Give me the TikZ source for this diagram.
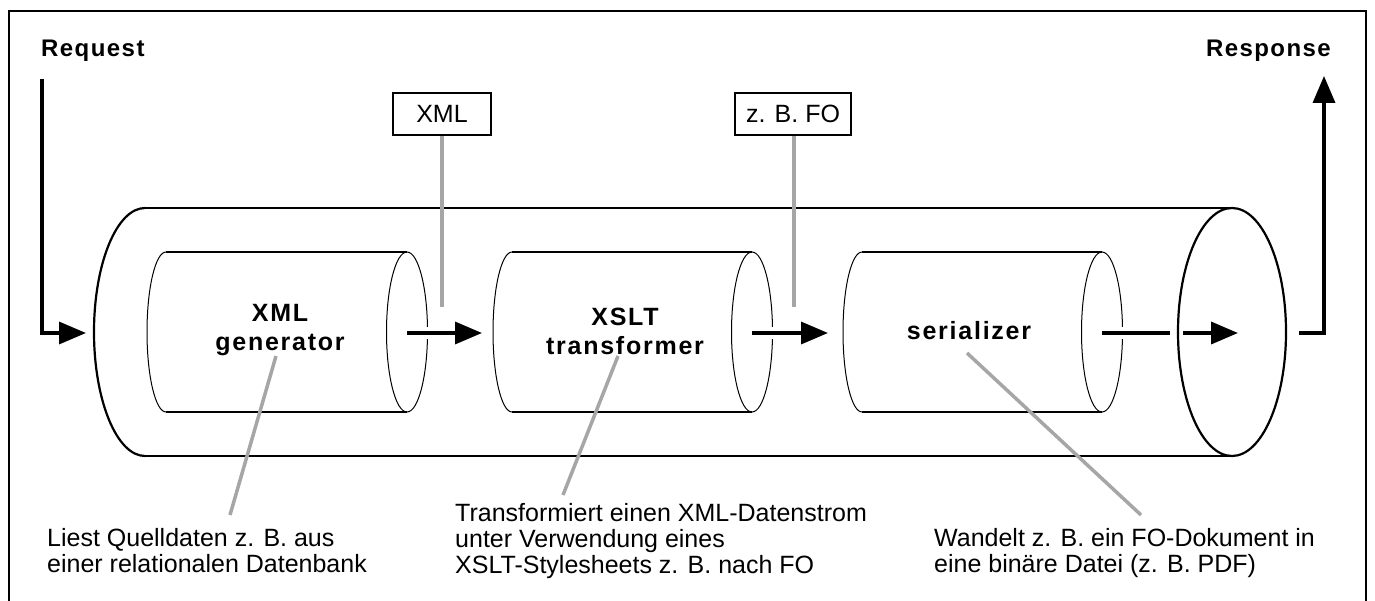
\documentclass[tikz,border=0pt]{standalone}
\usepackage{fontspec}
\setmainfont{Liberation Sans}
\newfontfamily\bsp{Liberation Sans}[LetterSpace=6]
\newfontfamily\bspw{Liberation Sans}[LetterSpace=7]
\usetikzlibrary{arrows.meta}
\definecolor{lead}{HTML}{A6A6A6}
\begin{document}
\begin{tikzpicture}[x=1pt,y=-1pt,
  frameline/.style={line width=2pt},
  outerline/.style={line width=2.2pt},
  cylline/.style={line width=1.8pt},
  cylarc/.style={line width=1pt},
  flow/.style={line width=3.5pt,-{Triangle[length=27pt,width=22pt]}},
  flowplain/.style={line width=3.5pt},
  leader/.style={draw=lead,line width=3.5pt},
  lblbox/.style={draw,line width=1.2pt,minimum width=98pt,minimum height=42pt,inner sep=0pt,font=\fontsize{25}{26}\selectfont},
  note/.style={anchor=north west,align=left,inner sep=0pt,font=\fontsize{25}{26}\selectfont},
  iolabel/.style={inner sep=0pt,font=\bsp\bfseries\fontsize{24}{29}\selectfont},
  comp/.style={align=center,inner sep=0pt,font=\bspw\bfseries\fontsize{25}{29}\selectfont}]
\useasboundingbox (0,0) rectangle (1375,601);
% frame
\draw[frameline] (9,601) -- (9,11) -- (1366,11) -- (1366,601);
% outer cylinder
\draw[outerline] (145,208) -- (1232,208);
\draw[outerline] (145,456) -- (1232,456);
\draw[outerline] (145,208) arc[start angle=90,end angle=270,x radius=51pt,y radius=124pt];
\draw[outerline] (1232,332) ellipse[x radius=54pt,y radius=124pt];
% inner cylinders
\foreach \l/\r in {166/407, 512/752, 862/1102}{
  \draw[cylline] (\l,252) -- (\r,252);
  \draw[cylline] (\l,412) -- (\r,412);
  \draw[cylarc] (\l,252) arc[start angle=90,end angle=270,x radius=19pt,y radius=80pt];
  \draw[cylarc] (\r,332) ellipse[x radius=20.5pt,y radius=80pt];
  \fill[white] (\r+17,327) rectangle (\r+24,339);
}
% labels
\node[iolabel,anchor=base west] (req) at (41,57) {Request};
\node[iolabel,anchor=base east] (resp) at (1331,57) {Response};
\node[comp] (gen) at (280,330) {XML\\generator};
\node[comp] (xslt) at (625,331) {XSLT\\transformer};
\node[comp,anchor=base] (ser) at (969,339) {serializer};
\node[lblbox] (bxml) at (442,114) {XML};
\node[lblbox,minimum width=116pt] (bfo) at (793,114) {z. B. FO};
% coordinates
\coordinate (reqtop) at (42,79);
\coordinate (reqcorner) at (42,333);
\coordinate (reqend) at (86,333);
\coordinate (e1) at (407,333);
\coordinate (t1) at (482,333);
\coordinate (e2) at (752,333);
\coordinate (t2) at (828,333);
\coordinate (e3) at (1102,333);
\coordinate (g3a) at (1170,333);
\coordinate (g3b) at (1183,333);
\coordinate (t3) at (1238,333);
\coordinate (respstart) at (1299,333);
\coordinate (respcorner) at (1324,333);
\coordinate (resptop) at (1324,76);
\coordinate (s1) at (442,307);
\coordinate (s2) at (794,307);
% flow arrows
\draw[flow] (reqtop) -- (reqcorner) -- (reqend);
\draw[flow] (e1) -- (t1);
\draw[flow] (e2) -- (t2);
\draw[flowplain] (e3) -- (g3a);
\draw[flow] (g3b) -- (t3);
\draw[flow] (respstart) -- (respcorner) -- (resptop);
% notes
\node[note] (n1) at (47,528) {Liest Quelldaten z. B. aus\\einer relationalen Datenbank};
\node[note] (n2) at (455,503) {Transformiert einen XML-Datenstrom\\unter Verwendung eines\\XSLT-Stylesheets z. B. nach FO};
\node[note] (n3) at (934,528) {Wandelt z. B. ein FO-Dokument in\\eine binäre Datei (z. B. PDF)};
% leaders
\draw[leader] (276,356) -- (230,515);
\draw[leader] (618,356) -- (563,495);
\draw[leader] (967,353) -- (1141,515);
\draw[leader] (bxml.south) -- (s1);
\draw[leader] (bfo.south -| s2) -- (s2);
\end{tikzpicture}
\end{document}
